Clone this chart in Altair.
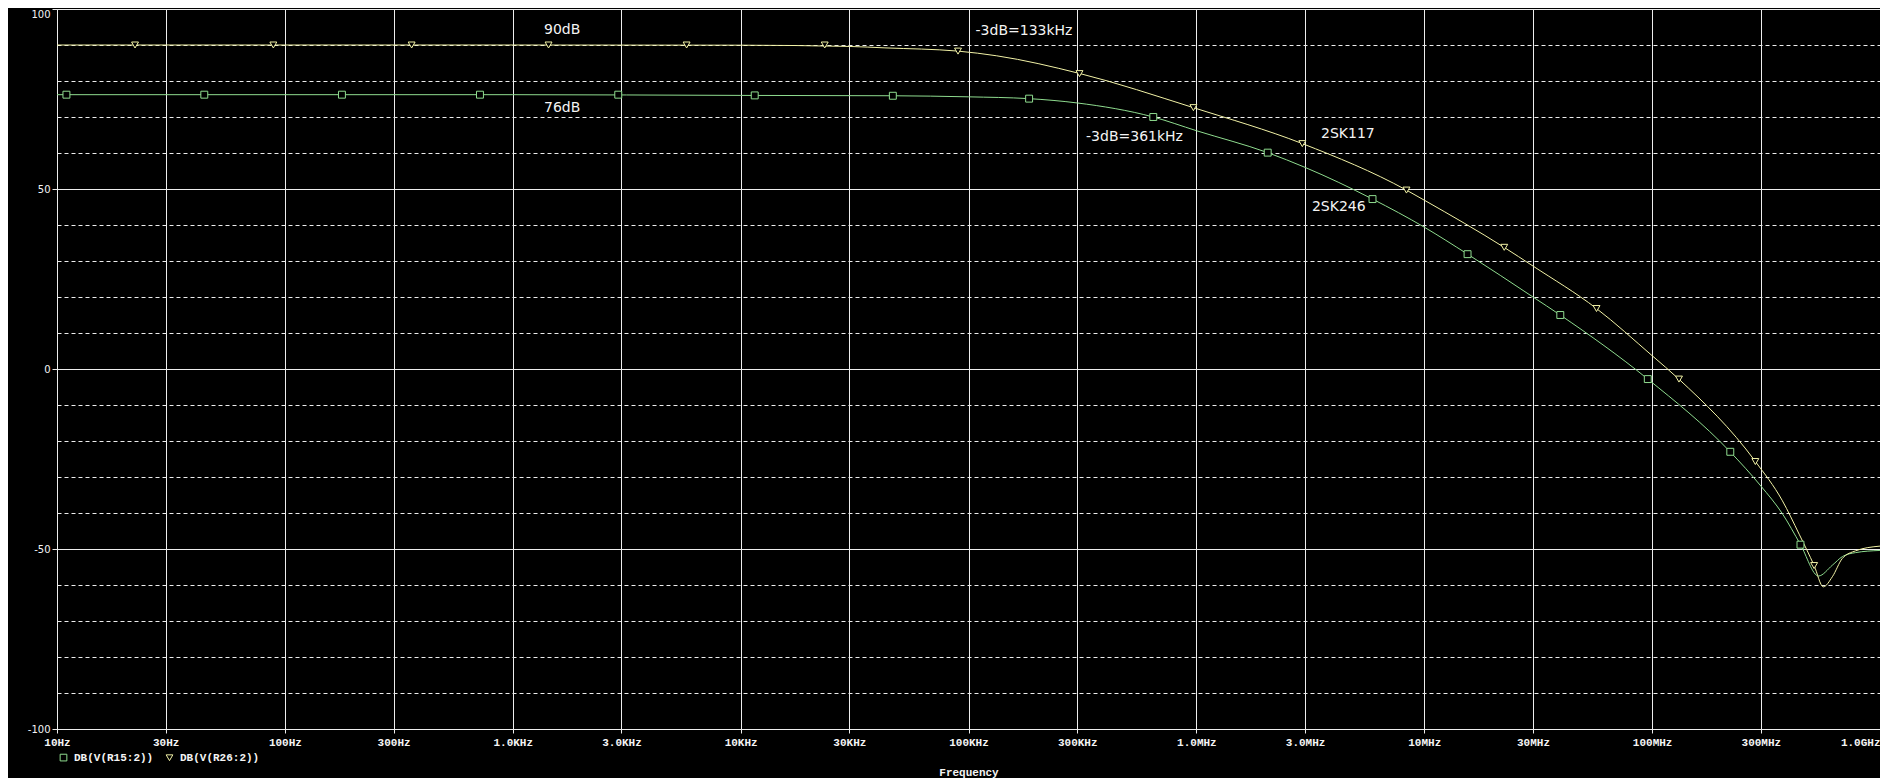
import altair as alt
import pandas as pd

# ---------------- data ----------------
S_GREEN = "DB(V(R15:2))"   # 2SK246, square markers
S_YELLOW = "DB(V(R26:2))"  # 2SK117, triangle markers

f_yellow = [10, 100, 1000, 10000, 30000, 43000, 90000, 133000, 307000, 970000,
            2920000, 8350000, 10000000, 22400000, 30000000, 57000000,
            100000000, 131000000, 284000000, 373000000, 442000000,
            514000000, 564000000, 618000000, 684000000, 782000000, 1000000000]
db_yellow = [90.0, 90.0, 90.0, 89.95, 89.6, 89.2, 88.3, 87.0, 82.1, 72.6,
             62.6, 49.7, 46.9, 33.8, 28.6, 16.8,
             3.7, -2.8, -25.7, -36.6, -45.9,
             -54.6, -60.5, -57.7, -52.6, -50.5, -49.2]

f_green = [10, 1000, 10000, 46600, 100000, 184000, 300000, 647000, 1000000,
           2056000, 3000000, 5930000, 10000000, 15500000, 30000000, 39500000,
           95700000, 220000000, 300000000, 373000000, 448000000,
           537000000, 618000000, 684000000, 782000000, 1000000000]
db_green = [76.2, 76.2, 76.0, 75.9, 75.6, 75.1, 73.9, 70.0, 66.2,
            60.1, 56.0, 47.2, 39.4, 31.9, 20.0, 15.0,
            -2.8, -23.0, -32.5, -40.2, -48.8,
            -57.5, -54.5, -52.1, -51.0, -50.4]

mk_f_yellow = [22, 89, 360, 1436, 5794, 23390, 89950, 306900, 970500, 2917000,
               8356000, 22440000, 57020000, 131200000, 283800000, 514000000]
mk_db_yellow = [90, 90, 90, 90, 90, 90, 88.3, 82.05, 72.6, 62.6,
                49.7, 33.8, 16.8, -2.8, -25.7, -54.6]

mk_f_green = [11, 44.3, 178, 718, 2904, 11530, 46560, 184500, 647100, 2056000,
              5929000, 15490000, 39540000, 95720000, 220300000, 447700000]
mk_db_green = [76.2, 76.2, 76.2, 76.2, 76.2, 76.0, 75.9, 75.1, 70.0, 60.1,
               47.2, 31.9, 15.0, -2.8, -23.0, -48.8]

note_text = ["90dB", "76dB", "-3dB=133kHz", "-3dB=361kHz", "2SK117", "2SK246"]
note_f = [1371, 1371, 107400, 328000, 3524000, 3215000]
note_db = [94.3, 72.5, 94.0, 64.35, 65.4, 44.96]

tick_vals = [10, 30, 100, 300, 1000, 3000, 10000, 30000, 100000, 300000,
             1000000, 3000000, 10000000, 30000000, 100000000, 300000000, 1000000000]
tick_labels = ["10Hz", "30Hz", "100Hz", "300Hz", "1.0KHz", "3.0KHz", "10KHz", "30KHz",
               "100KHz", "300KHz", "1.0MHz", "3.0MHz", "10MHz", "30MHz", "100MHz",
               "300MHz", "1.0GHz"]
y_vals = list(range(-100, 101, 10))

# ---------------- styling ----------------
GREEN = "#8fdc8f"
YELLOW = "#f2f2a6"
GRID = "#ededed"
TXT = "#f4f4f4"

green_line = pd.DataFrame({"f": f_green, "db": db_green})
yellow_line = pd.DataFrame({"f": f_yellow, "db": db_yellow})
marks = pd.concat([
    pd.DataFrame({"f": mk_f_green, "db": mk_db_green, "s": S_GREEN}),
    pd.DataFrame({"f": mk_f_yellow, "db": mk_db_yellow, "s": S_YELLOW}),
])
notes = pd.DataFrame({"t": note_text, "f": note_f, "db": note_db})

label_expr = ("[" + ",".join("'%s'" % l for l in tick_labels) + "][indexof(["
              + ",".join(str(v) for v in tick_vals) + "], datum.value)]")

x_scale = alt.Scale(type="log", domain=[10, 1000000000], nice=False)
y_scale = alt.Scale(domain=[-100, 100], nice=False, zero=False)

x_axis = alt.Axis(
    values=tick_vals, labelExpr=label_expr, grid=True, gridColor=GRID, gridWidth=1,
    domainColor=GRID, tickColor=GRID, tickSize=4, labelColor=TXT,
    labelFont="Liberation Mono", labelFontSize=11, labelFontWeight="bold", labelPadding=3,
    labelAlign=alt.expr("datum.value >= 1000000000 ? 'right' : 'center'"),
    labelOverlap=False, labelFlush=False,
    title="Frequency", titleFont="Liberation Mono", titleFontSize=11,
    titleFontWeight="bold", titleColor=TXT, titleY=43, titleBaseline="middle",
)
y_axis = alt.Axis(
    values=y_vals, labelExpr="datum.value % 50 === 0 ? '' + datum.value : ''",
    grid=True, gridColor=GRID, gridWidth=1,
    gridDash={"condition": {"test": "datum.value % 50 !== 0", "value": [4, 3]}, "value": []},
    tickOpacity={"condition": {"test": "datum.value % 50 === 0", "value": 1}, "value": 0},
    tickSize=5, tickColor=GRID, domainColor=GRID,
    labelFont="DejaVu Sans", labelFontSize=10, labelColor=TXT, labelPadding=2,
    labelBaseline={"condition": {"test": "datum.value >= 100", "value": "top"}, "value": "middle"},
    labelOverlap=False, title=None,
)

X = alt.X("f:Q", scale=x_scale, axis=x_axis)
Y = alt.Y("db:Q", scale=y_scale, axis=y_axis)

legend = alt.Legend(title=None, orient="none", legendX=1, legendY=743,
                    direction="horizontal", labelFont="Liberation Mono",
                    labelFontSize=11, labelFontWeight="bold", labelColor=TXT,
                    symbolSize=45, symbolStrokeWidth=1, symbolFillColor="black",
                    columnPadding=10, labelOffset=5, padding=0)

green_layer = alt.Chart(green_line).mark_line(
    strokeWidth=1, interpolate="monotone", color=GREEN).encode(x=X, y=Y)
yellow_layer = alt.Chart(yellow_line).mark_line(
    strokeWidth=1, interpolate="monotone", color=YELLOW).encode(x=X, y=Y)

point_layer = alt.Chart(marks).mark_point(filled=False, fill="black", strokeWidth=1,
                                          size=48, opacity=1).encode(
    x=X, y=Y,
    color=alt.Color("s:N", scale=alt.Scale(domain=[S_GREEN, S_YELLOW], range=[GREEN, YELLOW]),
                    legend=legend),
    shape=alt.Shape("s:N", scale=alt.Scale(domain=[S_GREEN, S_YELLOW],
                                           range=["square", "triangle-down"]),
                    legend=legend),
)

text_layer = alt.Chart(notes).mark_text(font="DejaVu Sans", fontSize=14, color=TXT,
                                        align="left", baseline="middle").encode(
    x=X, y=Y,
    text="t:N",
)

chart = alt.layer(green_layer, yellow_layer, point_layer, text_layer).properties(
    width=1823, height=720,
    autosize=alt.AutoSizeParams(type="none"),
    padding={"left": 49, "top": 1, "right": 0, "bottom": 49},
    background="black",
).configure_view(stroke=GRID, strokeWidth=1)

chart.save("out.html", embed_options={"renderer": "svg", "actions": False})
